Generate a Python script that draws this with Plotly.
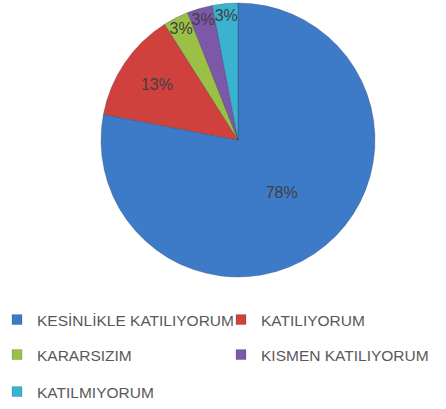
import plotly.graph_objects as go

labels = ["KESİNLİKLE KATILIYORUM", "KATILIYORUM", "KARARSIZIM", "KISMEN KATILIYORUM", "KATILMIYORUM"]
values = [78, 13, 3, 3, 3]
colors = ["#3D7BC9", "#D0413D", "#9BC046", "#7D57A8", "#3AB3D0"]

FONT = "Liberation Sans, Arial, sans-serif"
W, H = 446, 409

fig = go.Figure()
fig.add_trace(go.Pie(
    labels=labels, values=values, sort=False, direction="clockwise", rotation=0,
    marker=dict(colors=colors, line=dict(color="rgba(40,40,60,0.35)", width=0.8)),
    texttemplate="%{percent:.0%}", textposition="inside",
    insidetextorientation="horizontal",
    textfont=dict(family=FONT, size=16, color="#404040"),
    domain=dict(x=[101 / W, 375 / W], y=[1 - 277 / H, 1 - 3 / H]),
    showlegend=False, hoverinfo="label+percent", automargin=False,
))

# legend entries (one legend per entry to reproduce Excel-style grid layout)
legend_pos = [(0, 320), (224, 320), (0, 355), (224, 355), (0, 392)]
for i, (lab, col) in enumerate(zip(labels, colors)):
    name = "legend" if i == 0 else f"legend{i + 1}"
    fig.add_trace(go.Scatter(
        x=[None], y=[None], mode="markers", name=lab,
        marker=dict(symbol="square", size=10, color=col, line=dict(color="rgba(0,0,0,0.3)", width=0.5)),
        legend=name, showlegend=True,
    ))
    lx, ly = legend_pos[i]
    fig.update_layout({name: dict(
        x=lx / W, y=1 - ly / H, xanchor="left", yanchor="middle",
        font=dict(family=FONT, size=15.5, color="#595959"),
        bgcolor="rgba(0,0,0,0)", borderwidth=0, itemwidth=30, indentation=-3,
    )})

fig.update_layout(
    width=W, height=H, margin=dict(l=0, r=0, t=0, b=0, autoexpand=False),
    paper_bgcolor="white", plot_bgcolor="white",
    xaxis=dict(visible=False), yaxis=dict(visible=False),
    uniformtext=dict(minsize=15, mode="show"),
)

fig.write_html(
    "out.html",
    config={"displayModeBar": False},
    post_script="document.body.style.margin='0';document.body.style.padding='0';",
)
